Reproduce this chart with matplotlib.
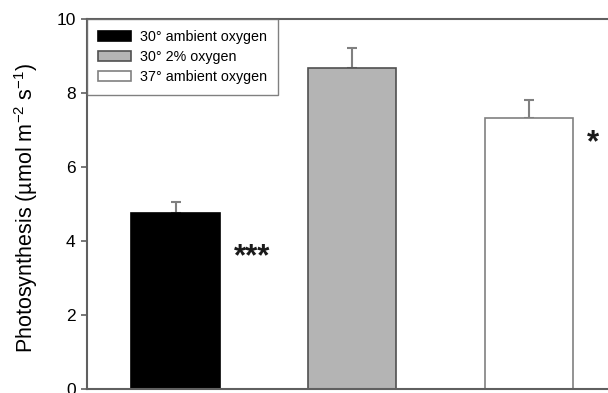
import matplotlib
matplotlib.use("Agg")
import matplotlib.pyplot as plt
import numpy as np

plt.rcParams['font.family'] = ['Liberation Sans', 'DejaVu Sans']
plt.rcParams['mathtext.default'] = 'regular'

# data
labels = ['30\u00b0 ambient oxygen', '30\u00b0 2% oxygen', '37\u00b0 ambient oxygen']
means = [4.74, 8.67, 7.32]
errs = [0.30, 0.53, 0.48]
stars = ['***', '', '*']
star_y = [3.84, 0, 6.90]
face = ['black', '#b4b4b4', 'white']
edge = ['black', '#505050', '#808080']

fig = plt.figure(figsize=(6.08, 3.93), dpi=100)
ax = fig.add_axes([0.1426, 0.0102, 1 - 0.1426, 0.9427])

STAR_FS = 22.5
x = np.arange(len(means))
for i in range(len(means)):
    ax.bar(x[i], means[i], width=0.5, color=face[i], edgecolor=edge[i],
           linewidth=1.2, label=labels[i], zorder=2)
    ax.errorbar(x[i], means[i], yerr=[[0], [errs[i]]], fmt='none',
                ecolor='#808080', elinewidth=1.5, capsize=3.6, capthick=1.5, zorder=1)
    if stars[i]:
        # asterisk glyph sits high in the em box, shift baseline down
        ax.annotate(stars[i], xy=(x[i] + 0.33, star_y[i]),
                    xytext=(0, -0.58 * STAR_FS), textcoords='offset points',
                    ha='left', va='baseline', fontsize=STAR_FS,
                    fontweight='bold', color='#1a1a1a')

ax.set_xlim(-0.503, 2.449)
ax.set_ylim(0, 10)
ax.set_yticks([0, 2, 4, 6, 8, 10])
ax.tick_params(axis='y', labelsize=12.5, length=4, width=1.2, color='#606060', pad=4)
ax.tick_params(axis='x', bottom=False, labelbottom=False)
for s in ['left', 'top', 'bottom']:
    ax.spines[s].set_color('#606060')
    ax.spines[s].set_linewidth(1.5)
ax.spines['right'].set_visible(False)

ax.set_ylabel('Photosynthesis (\u00b5mol m$^{-2}$ s$^{-1}$)', fontsize=15.5)
ax.yaxis.set_label_coords(-0.09, 0.49)

leg = ax.legend(loc='upper left', bbox_to_anchor=(0.0, 1.0), fontsize=10.3,
                frameon=True, fancybox=False, borderaxespad=0,
                handlelength=2.3, handleheight=0.75, handletextpad=0.6,
                labelspacing=0.42, borderpad=0.8)
leg.get_frame().set_edgecolor('#606060')
leg.get_frame().set_linewidth(1.0)

fig.savefig('out.png', dpi=100)
